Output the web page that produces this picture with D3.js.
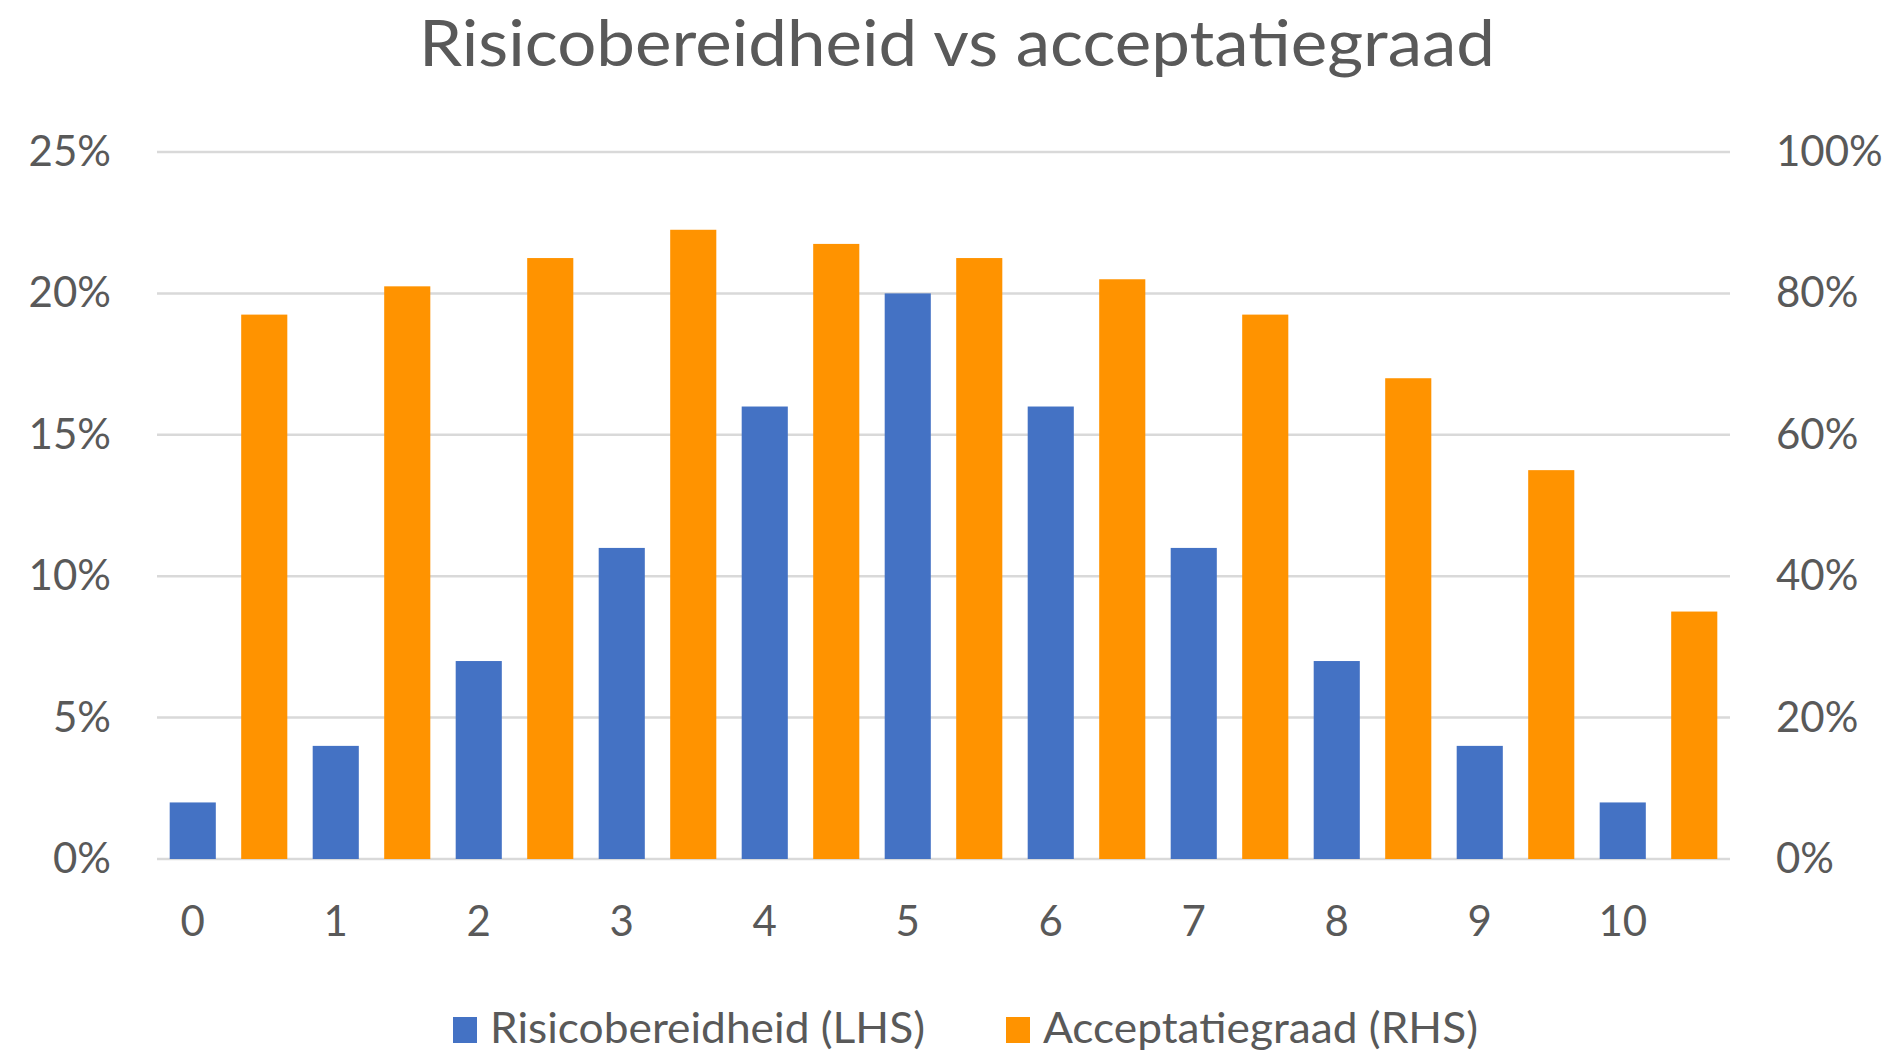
<!DOCTYPE html>
<html>
<head>
<meta charset="utf-8">
<script src="https://cdn.jsdelivr.net/npm/d3@7"></script>
<style>
  body { margin: 0; background: #fff; }
  svg text { font-family: Lato, "Open Sans", sans-serif; fill: #595959; }
</style>
</head>
<body>
<div id="chart"></div>
<script>
// data
var categories = ["0", "1", "2", "3", "4", "5", "6", "7", "8", "9", "10"];
var risico = [0.02, 0.04, 0.07, 0.11, 0.16, 0.20, 0.16, 0.11, 0.07, 0.04, 0.02];     // LHS
var acceptatie = [0.77, 0.81, 0.85, 0.89, 0.87, 0.85, 0.82, 0.77, 0.68, 0.55, 0.35]; // RHS
var leftTicks = [0, 0.05, 0.10, 0.15, 0.20, 0.25];
var rightTicks = [0, 0.2, 0.4, 0.6, 0.8, 1.0];
var seriesNames = ["Risicobereidheid (LHS)", "Acceptatiegraad (RHS)"];
var titleText = "Risicobereidheid vs acceptatiegraad";

var width = 1889, height = 1052;
var margin = {top: 152, right: 159, bottom: 193, left: 157};
var blue = "#4472C4", orange = "#FF9300", grid = "#D9D9D9";

var svg = d3.select("#chart").append("svg")
  .attr("width", width)
  .attr("height", height);

var x = d3.scaleBand()
  .domain(categories)
  .range([margin.left, width - margin.right]);

var xSub = d3.scaleBand()
  .domain(["lhs", "rhs"])
  .range([0, x.bandwidth()])
  .paddingInner(0.355)
  .paddingOuter(0.1775);

var yL = d3.scaleLinear().domain([0, 0.25]).range([height - margin.bottom, margin.top]);
var yR = d3.scaleLinear().domain([0, 1]).range([height - margin.bottom, margin.top]);

// title
svg.append("text")
  .attr("x", 419)
  .attr("y", 66)
  .attr("textLength", 1076)
  .attr("lengthAdjust", "spacingAndGlyphs")
  .style("font-size", "64px")
  .text(titleText);

// gridlines
svg.append("g").selectAll("line")
  .data(leftTicks)
  .enter().append("line")
  .attr("x1", margin.left)
  .attr("x2", width - margin.right)
  .attr("y1", function(d) { return yL(d); })
  .attr("y2", function(d) { return yL(d); })
  .attr("stroke", grid)
  .attr("stroke-width", 2.5);

// left axis
var gl = svg.append("g")
  .attr("transform", "translate(111,0)")
  .call(d3.axisLeft(yL).tickValues(leftTicks).tickFormat(d3.format(".0%")).tickSize(0).tickPadding(0));
gl.select(".domain").remove();
gl.selectAll("text").style("font-size", "42px").style("font-family", null).attr("fill", null);

// right axis
var gr = svg.append("g")
  .attr("transform", "translate(1776,0)")
  .call(d3.axisRight(yR).tickValues(rightTicks).tickFormat(d3.format(".0%")).tickSize(0).tickPadding(0));
gr.select(".domain").remove();
gr.selectAll("text").style("font-size", "42px").style("font-family", null).attr("fill", null);

// bars
svg.append("g").selectAll("rect")
  .data(risico)
  .enter().append("rect")
  .attr("x", function(d, i) { return x(categories[i]) + xSub("lhs"); })
  .attr("y", function(d) { return yL(d); })
  .attr("width", xSub.bandwidth())
  .attr("height", function(d) { return yL(0) - yL(d); })
  .attr("fill", blue);

svg.append("g").selectAll("rect")
  .data(acceptatie)
  .enter().append("rect")
  .attr("x", function(d, i) { return x(categories[i]) + xSub("rhs"); })
  .attr("y", function(d) { return yR(d); })
  .attr("width", xSub.bandwidth())
  .attr("height", function(d) { return yR(0) - yR(d); })
  .attr("fill", orange);

// x labels sit under the blue bars
var shift = xSub("lhs") + xSub.bandwidth() / 2 - x.bandwidth() / 2;
var gx = svg.append("g")
  .attr("transform", "translate(" + shift + "," + (height - margin.bottom) + ")")
  .call(d3.axisBottom(x).tickSize(0));
gx.select(".domain").remove();
gx.selectAll("text")
  .attr("y", 77)
  .attr("dy", null)
  .style("font-size", "42px").style("font-family", null).attr("fill", null);

// legend
var legend = [
  {name: seriesNames[0], color: blue, x: 453, tx: 490},
  {name: seriesNames[1], color: orange, x: 1006, tx: 1043}
];
var lg = svg.append("g");
lg.selectAll("rect")
  .data(legend)
  .enter().append("rect")
  .attr("x", function(d) { return d.x; })
  .attr("y", 1017)
  .attr("width", 24)
  .attr("height", 26)
  .attr("fill", function(d) { return d.color; });
lg.selectAll("text")
  .data(legend)
  .enter().append("text")
  .attr("x", function(d) { return d.tx; })
  .attr("y", 1043)
  .attr("textLength", 435)
  .attr("lengthAdjust", "spacingAndGlyphs")
  .style("font-size", "42px")
  .text(function(d) { return d.name; });
</script>
</body>
</html>
